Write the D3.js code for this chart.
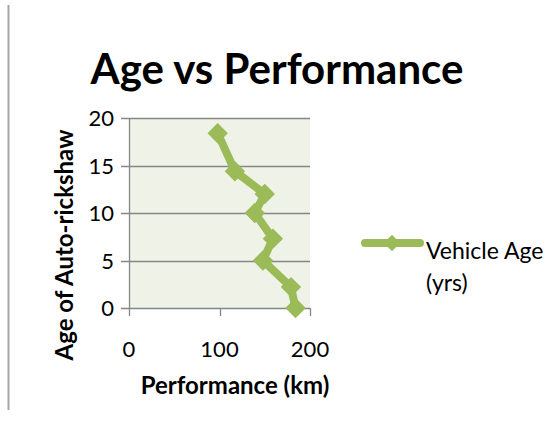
<!DOCTYPE html>
<html>
<head>
<meta charset="utf-8">
<script src="https://cdn.jsdelivr.net/npm/d3@7"></script>
<style>
  body { margin: 0; background: #fff; }
  text { font-family: Lato, "Open Sans", sans-serif; fill: #000; }
</style>
</head>
<body>
<script>
var performance = [98, 117, 150, 139, 159, 148, 179, 184];
var vehicleAge = [18.4, 14.4, 12.0, 10.0, 7.3, 5.0, 2.2, 0];
var xTicks = [0, 100, 200];
var yTicks = [0, 5, 10, 15, 20];
var seriesName = ["Vehicle Age", "(yrs)"];

var width = 559, height = 425,
    plot = {left: 129, right: 310, top: 118, bottom: 308},
    green = "#9bbb59";

var svg = d3.select("body").append("svg")
  .attr("width", width)
  .attr("height", height);

// frame edge at left
svg.append("line")
  .attr("x1", 8.5).attr("x2", 8.5).attr("y1", 5).attr("y2", 410)
  .attr("stroke", "#a6a6a6").attr("stroke-width", 2);

var x = d3.scaleLinear().domain([0, 200]).range([plot.left, plot.right]);
var y = d3.scaleLinear().domain([0, 20]).range([plot.bottom, plot.top]);

svg.append("rect")
  .attr("x", plot.left).attr("y", plot.top)
  .attr("width", plot.right - plot.left).attr("height", plot.bottom - plot.top)
  .attr("fill", "#eef2e7");

// gridlines + y ticks
svg.append("g").selectAll("line").data(yTicks).join("line")
  .attr("x1", plot.left - 8).attr("x2", plot.right)
  .attr("y1", function (d) { return Math.round(y(d)) + 0.5; })
  .attr("y2", function (d) { return Math.round(y(d)) + 0.5; })
  .attr("stroke", "#868686").attr("stroke-width", 1.3);

svg.append("line")
  .attr("x1", plot.left + 0.5).attr("x2", plot.left + 0.5)
  .attr("y1", plot.top).attr("y2", plot.bottom + 8)
  .attr("stroke", "#868686").attr("stroke-width", 1.3);

svg.append("g").selectAll("line").data(xTicks.slice(1)).join("line")
  .attr("x1", function (d) { return Math.round(x(d)) + 0.5; })
  .attr("x2", function (d) { return Math.round(x(d)) + 0.5; })
  .attr("y1", plot.bottom).attr("y2", plot.bottom + 8)
  .attr("stroke", "#868686").attr("stroke-width", 1.3);

svg.append("g").selectAll("text").data(yTicks).join("text")
  .attr("x", 114).attr("y", function (d) { return y(d) + 8; })
  .attr("text-anchor", "end")
  .style("font-size", "22px")
  .text(function (d) { return d; });

svg.append("g").selectAll("text").data(xTicks).join("text")
  .attr("x", function (d) { return x(d); }).attr("y", 357)
  .attr("text-anchor", "middle")
  .style("font-size", "22px")
  .text(function (d) { return d; });

// titles
svg.append("text")
  .attr("x", 277).attr("y", 84)
  .attr("text-anchor", "middle")
  .style("font-size", "42px").style("font-weight", "bold")
  .text("Age vs Performance");

svg.append("text")
  .attr("x", 235).attr("y", 394)
  .attr("text-anchor", "middle")
  .style("font-size", "24px").style("font-weight", "bold")
  .text("Performance (km)");

svg.append("text")
  .attr("transform", "translate(73,245) rotate(-90)")
  .attr("text-anchor", "middle")
  .style("font-size", "24px").style("font-weight", "bold")
  .text("Age of Auto-rickshaw");

// series
var pts = performance.map(function (p, i) { return [p, vehicleAge[i]]; });

var line = d3.line()
  .x(function (d) { return x(d[0]); })
  .y(function (d) { return y(d[1]); });

svg.append("path")
  .attr("d", line(pts))
  .attr("fill", "none")
  .attr("stroke", green)
  .attr("stroke-width", 8)
  .attr("stroke-linejoin", "round");

var diamond = d3.symbol().type(d3.symbolDiamond2).size(265);

svg.append("g").selectAll("path").data(pts).join("path")
  .attr("transform", function (d) { return "translate(" + x(d[0]) + "," + y(d[1]) + ")"; })
  .attr("d", diamond)
  .attr("fill", green);

// legend
svg.append("line")
  .attr("x1", 365).attr("x2", 420).attr("y1", 243).attr("y2", 243)
  .attr("stroke", green).attr("stroke-width", 8).attr("stroke-linecap", "round");
svg.append("path")
  .attr("transform", "translate(392,243)")
  .attr("d", d3.symbol().type(d3.symbolDiamond2).size(170))
  .attr("fill", green);

svg.append("g").selectAll("text").data(seriesName).join("text")
  .attr("x", 426).attr("y", function (d, i) { return 259 + i * 32; })
  .style("font-size", "23px")
  .text(function (d) { return d; });
</script>
</body>
</html>
